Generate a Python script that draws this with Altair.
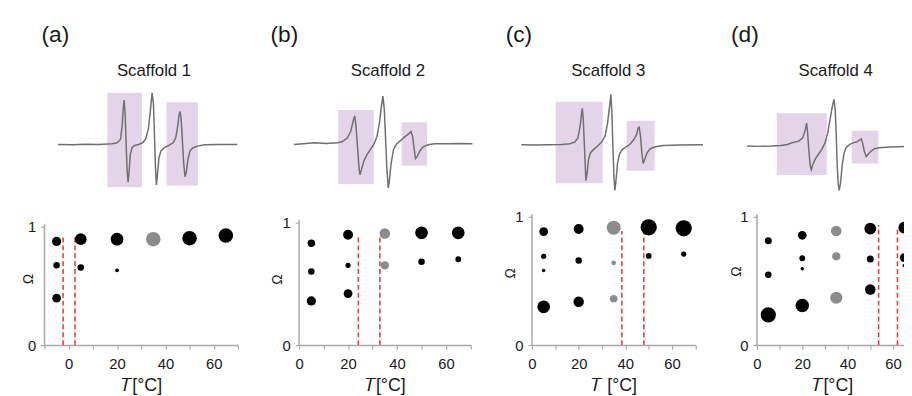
import altair as alt
import pandas as pd

FONT = "Liberation Sans"
BLACK = "#000000"
GRAY_PT = "#8c8c8c"
AXIS = "#a8a8a8"
TXT = "#1a1a1a"
RED = "#e8433c"
PURPLE = "#e4d4e8"
LINE = "#6f6f6f"

spec_a_B = [0, 15, 28.3, 41.7, 55, 60, 63.3, 65, 66, 67, 68, 69, 70, 71, 72, 73.3, 75, 77.7, 81.7, 85.7,
            89, 91.7, 93.7, 95.3, 96.7, 97.7, 98.7, 99.7, 101, 102.3, 104.3, 107.7, 112.3, 116.7, 119.3,
            121.3, 122.7, 123.7, 124.7, 126, 127.3, 128.7, 130, 131.7, 133.7, 136.7, 141.7, 148.3, 161.7, 181.7]
spec_a_I = [0, -0.3, 0.3, 0, 0.7, 1.7, 5, 18.3, 35, 45, 31.7, 1.7, -25, -38.3, -28.3, -10, -3.3, -1, 0, 1.7,
            5.7, 16.7, 35, 52.3, 41.7, 11.7, -21.7, -41, -28.3, -13.3, -6.7, -3.3, -1, 1.7, 6.7,
            18.3, 30, 33.3, 26.7, 5, -18.3, -32.7, -28.3, -15, -6.7, -3.3, -1.7, -0.3, 0, 0]

spec_b_B = [0, 9.3, 21, 32.7, 44.3, 49.3, 54.3, 57.7, 60, 61.7, 63, 64.7, 66, 67, 68.7, 71, 74.3, 77.7, 81, 84.3,
            86.7, 88.7, 90.3, 91.7, 93, 94.3, 95.7, 97, 98.7, 101, 104.3, 108.7, 113.3, 116.7, 118.7,
            120.3, 122, 123.3, 125, 127.7, 131, 136, 142.7, 156, 169.3, 181]
spec_b_I = [-0.7, 0, 1, 0.3, 1, 2.3, 6, 12.7, 22.7, 28.3, 17.7, -5.7, -24, -31.3, -25.7, -17.3, -10.7, -5.7, -0.7, 7.7,
            21, 37.7, 48.3, 34.3, 4.3, -25.7, -45, -35.7, -19, -5.7, 0, 3.7, 7.7, 10.3, 12.3,
            7.7, -5.7, -15, -13, -7.3, -3, -1, 0, 0, 0.3, 0]

spec_c_B = [0, 14, 27.3, 40.7, 49, 54, 57.3, 59.7, 61, 61.7, 62.7, 63.7, 64.7, 65.3, 66.7, 68, 70, 73.3, 77.3, 81.3,
            84.7, 87.3, 89.3, 90.7, 91.7, 92.7, 93.7, 94.7, 96, 97.3, 99.3, 102.3, 106.7, 110.7, 114,
            116.7, 118.3, 119.3, 120.7, 122, 123.3, 125, 127.3, 130.7, 135.7, 144, 160.7, 184]
spec_c_I = [0, -0.3, 0, 0.3, 1, 2.7, 7, 20.3, 32, 37, 25.3, 2, -21.3, -36.3, -28, -14.7, -8, -4.7, -1.3, 2.7,
            8.7, 22, 38.7, 51, 32, -1.3, -31.3, -46.3, -34.7, -19.7, -9.7, -4.7, -2, 1.3, 5.3,
            10.3, 17, 17.7, 8.7, -8, -19, -14.7, -8, -4, -2, -0.7, -0.3, 0]

spec_d_B = [0, 10.7, 24, 34, 40.7, 45.7, 52.3, 56.3, 59, 60.3, 61.3, 62.7, 64, 65, 66.7, 69.3, 72.3, 75.7, 79, 81.7,
            84, 86.3, 88, 89.3, 90.3, 91.3, 92.3, 93.3, 94.7, 96.3, 98.3, 100.7, 104, 107.3, 111.3,
            114, 115.7, 117, 118.7, 120.7, 122.7, 125.7, 129, 134, 144, 154, 162.7]
spec_d_I = [0, -0.3, 0, 0.7, 1.7, 3.3, 5, 8.3, 16.7, 23.3, 13.3, -6.7, -20, -24, -18.3, -12.7, -8.3, -3.3, 3.3, 13.3,
            26.7, 40, 47.3, 36.7, 10, -20, -38.3, -45, -36.7, -20, -6.7, -1, 1.7, 3.3, 4.3,
            6, 7.3, 3.3, -5, -10.7, -8.3, -5, -2.7, -1.7, -1, -0.7, -0.3]

# highlighted field windows (start, end) and signal extent (low, high)
win_a_B0, win_a_B1, win_a_I0, win_a_I1 = [50, 110], [85, 141.7], [-43.3, -41.7], [52.3, 42.7]
win_b_B0, win_b_B1, win_b_I0, win_b_I1 = [45, 109.3], [81, 135], [-40.7, -22.3], [34.3, 21.7]
win_c_B0, win_c_B1, win_c_I0, win_c_I1 = [34.7, 106.7], [82.3, 135], [-39, -26.3], [43.7, 24.3]
win_d_B0, win_d_B1, win_d_I0, win_d_I1 = [30, 106], [80.7, 133], [-29.4, -17.7], [33.3, 15.6]

# ---------------- bubble data: temperature, order parameter, weight ----------------
a_T = [-5, -5, -5, 5, 5, 20, 20, 35, 50, 65]
a_O = [0.875, 0.675, 0.397, 0.894, 0.656, 0.894, 0.631, 0.894, 0.903, 0.925]
a_W = [28, 14, 25, 45, 14, 53, 5, 69, 69, 69]
a_dash, a_dash_top = [-2.3, 2.6], [0.93, 0.93]

b_T = [5, 5, 5, 20, 20, 20, 35, 35, 50, 50, 65, 65]
b_O = [0.83, 0.60, 0.36, 0.90, 0.65, 0.42, 0.91, 0.65, 0.915, 0.68, 0.915, 0.70]
b_W = [18.5, 14, 28, 32, 9, 25, 36, 22, 53, 14, 53, 11]
b_dash, b_dash_top = [24.2, 33.0], [0.90, 0.90]

c_T = [5, 5, 5, 5, 20, 20, 20, 35, 35, 35, 50, 50, 65, 65]
c_O = [0.885, 0.692, 0.582, 0.298, 0.905, 0.659, 0.338, 0.915, 0.641, 0.362, 0.918, 0.695, 0.91, 0.71]
c_W = [25, 9, 4, 53, 32, 14, 36, 64, 7, 18.5, 86, 11, 86, 9]
c_dash, c_dash_top = [38.5, 47.9], [0.89, 0.90]

d_T = [5, 5, 5, 20, 20, 20, 20, 35, 35, 35, 50, 50, 50, 65, 65, 65]
d_O = [0.813, 0.549, 0.236, 0.856, 0.677, 0.595, 0.308, 0.89, 0.692, 0.369, 0.908, 0.672, 0.433, 0.915, 0.682, 0.62]
d_W = [16, 14, 76, 25, 11, 4, 59, 36, 22, 49, 45, 16, 36, 45, 25, 4]
d_dash, d_dash_top = [53.7, 62.0], [0.936, 0.92]

labels = ["(a)", "(b)", "(c)", "(d)"]
scaffolds = ["Scaffold 1", "Scaffold 2", "Scaffold 3", "Scaffold 4"]
xtitles = ["\U0001D447[°C]", "\U0001D447[°C]", "\U0001D447 [°C]", "\U0001D447[°C]"]

# ---------------- layout ----------------
LEFT0 = 38
COL_SP = 62
WIDTHS = [196, 173.7, 165.6, 152.7]
T1, H1, ROW_SP, H2 = 54, 150, 10, 131
col_left = []
acc = LEFT0
for w in WIDTHS:
    col_left.append(acc)
    acc += w + COL_SP

spec_start = [51.67, 290.67, 521.0, 749.33]
spec_base = [141.67, 141.0, 142.0, 143.33]
label_x = [35, 267, 505, 733]
title_cx = [149, 386, 609, 839]
LABEL_Y, TITLE_Y = 38, 72

xdoms = [[-10, 70], [0, 70], [0, 70], [0, 66.5]]
xticks = [list(range(-10, 71, 10)), list(range(0, 71, 10)), list(range(0, 71, 10)), list(range(0, 61, 10))]
ymax = [131 / 120, 131 / 124.3, 131 / 130, 131 / 130]
om_tx = [-16, -22, -21.7, -21]
om_ty = [63.5, 64, 57.7, 56]


def spectrum_panel(i, B, I, B0, B1, I0, I1):
    s0, yb = spec_start[i], spec_base[i]
    xs = alt.Scale(domain=[col_left[i] - s0, col_left[i] + WIDTHS[i] - s0], nice=False, zero=False)
    ys = alt.Scale(domain=[yb - (T1 + H1), yb - T1], nice=False, zero=False)
    rects = alt.Chart(pd.DataFrame({"B": B0, "B2": B1, "I": I0, "I2": I1})).mark_rect(color=PURPLE).encode(
        x=alt.X("B:Q", scale=xs, axis=None), x2="B2:Q",
        y=alt.Y("I:Q", scale=ys, axis=None), y2="I2:Q")
    line = alt.Chart(pd.DataFrame({"B": B, "I": I, "k": list(range(len(B)))})).mark_line(
        color=LINE, strokeWidth=1.5).encode(
        x=alt.X("B:Q", scale=xs, axis=None), y=alt.Y("I:Q", scale=ys, axis=None), order="k:Q")
    lab = alt.Chart(pd.DataFrame({"s": [labels[i]]})).mark_text(
        align="left", baseline="alphabetic", fontSize=23, color=TXT).encode(
        x=alt.datum(label_x[i] - s0), y=alt.datum(yb - LABEL_Y), text="s:N")
    ttl = alt.Chart(pd.DataFrame({"s": [scaffolds[i]]})).mark_text(
        align="center", baseline="alphabetic", fontSize=17, color=TXT).encode(
        x=alt.datum(title_cx[i] - s0), y=alt.datum(yb - TITLE_Y), text="s:N")
    return alt.layer(rects, line, lab, ttl).properties(width=WIDTHS[i], height=H1)


def bubble_panel(i, T, O, W, dash, dash_top):
    xenc = alt.X("T:Q", scale=alt.Scale(domain=xdoms[i], nice=False, zero=False),
                 axis=alt.Axis(values=xticks[i],
                               labelExpr="datum.value % 20 === 0 ? datum.label : ''",
                               title=xtitles[i], titleY=46, titleBaseline="alphabetic",
                               titleFontSize=18, titleFontWeight="normal", titleColor=TXT,
                               labelFontSize=15, labelColor=TXT, labelPadding=8, labelFlush=False,
                               tickSize=4, tickColor=AXIS, tickWidth=1.2,
                               domainColor=AXIS, domainWidth=1.5, grid=False))
    yenc = alt.Y("Omega:Q", scale=alt.Scale(domain=[0, ymax[i]], nice=False, zero=True),
                 axis=alt.Axis(values=[0, 1], format="d", title="Ω", titleAngle=270,
                               titleX=om_tx[i], titleY=om_ty[i], titleAlign="center",
                               titleBaseline="middle", titleFontSize=14, titleFontWeight="normal",
                               titleColor=TXT, labelFontSize=15, labelColor=TXT, labelPadding=5,
                               labelFlush=False, tickSize=4, tickColor=AXIS, tickWidth=1.2,
                               domain=False, grid=False))
    yline = alt.Chart(pd.DataFrame({"T": [xdoms[i][0]], "Omega": [0], "top": [1.02]})).mark_rule(
        color=AXIS, strokeWidth=1.5).encode(x=xenc, y=yenc, y2="top:Q")
    dashes = alt.Chart(pd.DataFrame({"T": dash, "Omega": [0] * len(dash), "top": dash_top})).mark_rule(
        color=RED, strokeDash=[5, 3], strokeWidth=1.6).encode(x=xenc, y=yenc, y2="top:Q")
    pts = alt.Chart(pd.DataFrame({"T": T, "Omega": O, "w": W})).mark_circle(
        opacity=1, clip=True).encode(
        x=xenc, y=yenc,
        size=alt.Size("w:Q", scale=alt.Scale(domain=[0, 100], range=[0, 314]), legend=None),
        color=alt.condition("datum.T == 35", alt.value(GRAY_PT), alt.value(BLACK)))
    return alt.layer(yline, dashes, pts).properties(width=WIDTHS[i], height=H2)


specs = [
    spectrum_panel(0, spec_a_B, spec_a_I, win_a_B0, win_a_B1, win_a_I0, win_a_I1),
    spectrum_panel(1, spec_b_B, spec_b_I, win_b_B0, win_b_B1, win_b_I0, win_b_I1),
    spectrum_panel(2, spec_c_B, spec_c_I, win_c_B0, win_c_B1, win_c_I0, win_c_I1),
    spectrum_panel(3, spec_d_B, spec_d_I, win_d_B0, win_d_B1, win_d_I0, win_d_I1),
]
bubbles = [
    bubble_panel(0, a_T, a_O, a_W, a_dash, a_dash_top),
    bubble_panel(1, b_T, b_O, b_W, b_dash, b_dash_top),
    bubble_panel(2, c_T, c_O, c_W, c_dash, c_dash_top),
    bubble_panel(3, d_T, d_O, d_W, d_dash, d_dash_top),
]

chart = alt.concat(
    *specs, *bubbles, columns=4,
    spacing={"row": ROW_SP, "column": COL_SP}, bounds="flush", align="each"
).properties(
    padding={"left": 14, "top": 14, "right": -7, "bottom": 0},
    background="white"
).configure(font=FONT).configure_view(stroke=None)

chart.save("out.html", embed_options={"renderer": "svg", "actions": False})
